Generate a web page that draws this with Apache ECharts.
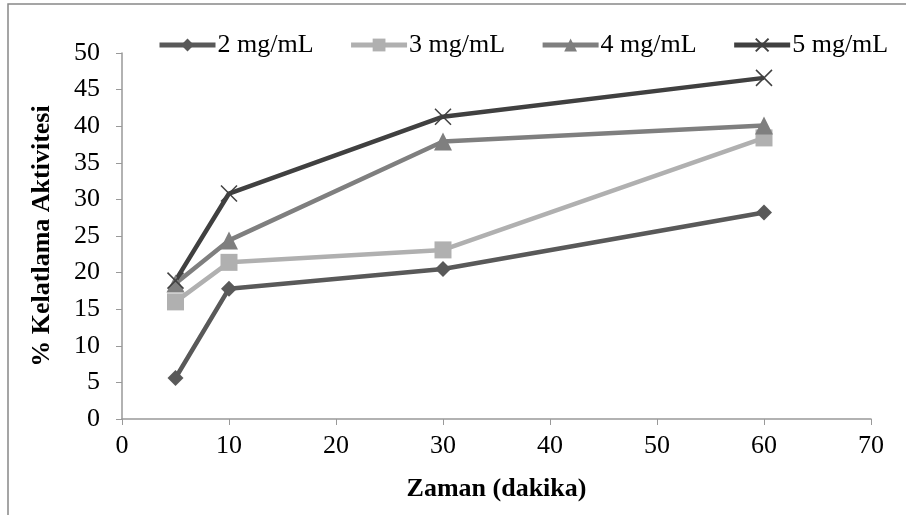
<!DOCTYPE html>
<html><head><meta charset="utf-8">
<script src="https://cdn.jsdelivr.net/npm/echarts@6/dist/echarts.min.js"></script>
<style>html,body{margin:0;padding:0;background:#fff}#c{width:906px;height:515px}</style>
</head><body><div id="c"></div>
<script>
const times = [5, 10, 30, 60];
const seriesNames = ['2 mg/mL', '3 mg/mL', '4 mg/mL', '5 mg/mL'];
const s2 = [5.6, 17.8, 20.5, 28.2];
const s3 = [16.0, 21.4, 23.1, 38.4];
const s4 = [18.5, 24.4, 37.9, 40.1];
const s5 = [18.9, 30.8, 41.3, 46.6];
const xTicks = [0, 10, 20, 30, 40, 50, 60, 70];
const yTicks = [0, 5, 10, 15, 20, 25, 30, 35, 40, 45, 50];

const font = 'Liberation Serif';
const chart = echarts.init(document.getElementById('c'));
const pair = v => times.map((t, i) => [t, v[i]]);
const xPath = 'path://M0,0L10,10M10,0L0,10';
function mk(name, data, color, symbol, size, extra) {
  return Object.assign({
    name, type: 'line', data: pair(data), symbol, symbolSize: size,
    lineStyle: { color, width: 4.5 }, itemStyle: { color },
    emphasis: { disabled: true }, animation: false, z: 3
  }, extra || {});
}
chart.setOption({
  animation: false,
  graphic: [{ type: 'rect', shape: { x: 8, y: 4, width: 1000, height: 600 }, style: { fill: 'none', stroke: '#888', lineWidth: 1.5 }, silent: true }],
  legend: {
    left: 157, top: 32, width: 749, orient: 'horizontal', padding: 0,
    itemWidth: 56, itemHeight: 16, itemGap: 35,
    lineStyle: { width: 5 },
    textStyle: { fontFamily: font, fontSize: 26, color: '#000', padding: [0, 0, 0, -3] },
    data: seriesNames
  },
  grid: { left: 122, right: 35, top: 53, bottom: 96 },
  xAxis: {
    type: 'value', min: xTicks[0], max: xTicks[xTicks.length - 1], interval: 10,
    name: 'Zaman (dakika)', nameLocation: 'middle', nameGap: 57,
    nameTextStyle: { fontFamily: font, fontSize: 26, fontWeight: 'bold', color: '#000' },
    axisLine: { lineStyle: { color: '#999', width: 1.5 } },
    axisTick: { inside: false, length: 6, lineStyle: { color: '#999' } },
    axisLabel: { fontFamily: font, fontSize: 26, color: '#000', margin: 14 },
    splitLine: { show: false }
  },
  yAxis: {
    type: 'value', min: yTicks[0], max: yTicks[yTicks.length - 1], interval: 5,
    name: '% Kelatlama Aktivitesi', nameLocation: 'middle', nameGap: 67,
    nameTextStyle: { fontFamily: font, fontSize: 26, fontWeight: 'bold', color: '#000' },
    axisLine: { show: true, lineStyle: { color: '#999', width: 1.5 } },
    axisTick: { show: true, length: 6, lineStyle: { color: '#999' } },
    axisLabel: { fontFamily: font, fontSize: 26, color: '#000', margin: 22 },
    splitLine: { show: false }
  },
  series: [
    mk(seriesNames[0], s2, '#595959', 'diamond', 16),
    mk(seriesNames[1], s3, '#b0b0b0', 'rect', 17),
    mk(seriesNames[2], s4, '#7f7f7f', 'triangle', 18),
    mk(seriesNames[3], s5, '#404040', xPath, 16, { itemStyle: { color: 'none', borderColor: '#404040', borderWidth: 1.5 } })
  ]
});
</script></body></html>
